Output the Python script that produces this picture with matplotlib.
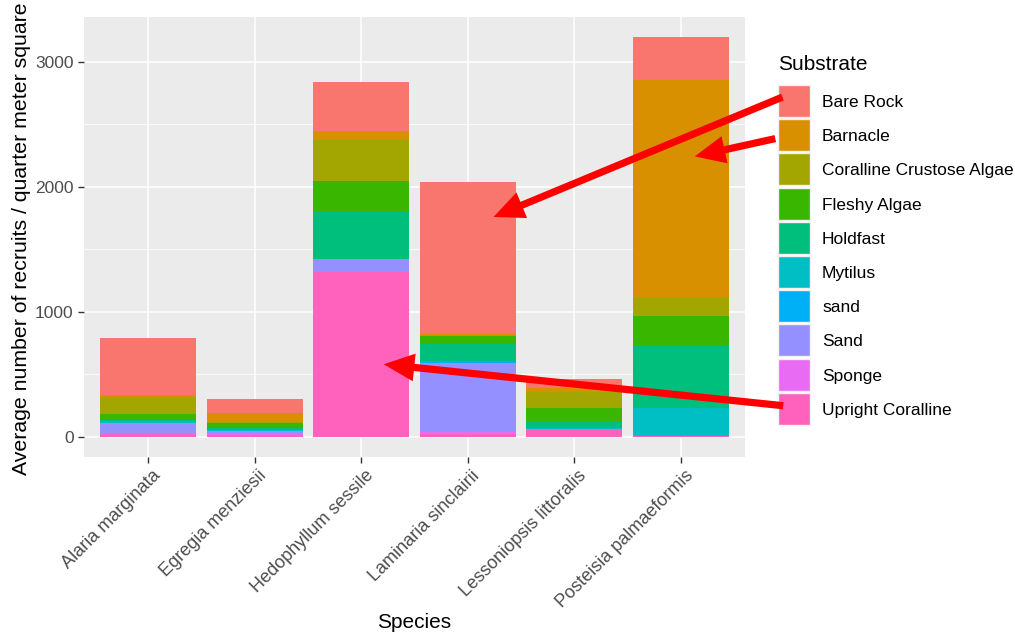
import matplotlib
matplotlib.use('Agg')
import matplotlib.pyplot as plt
import matplotlib.transforms as mtransforms
from matplotlib.patches import Rectangle, FancyArrowPatch
import numpy as np

plt.rcParams['font.family'] = ['Liberation Sans', 'DejaVu Sans']

# Datos
species = ['Alaria marginata', 'Egregia menziesii', 'Hedophyllum sessile',
           'Laminaria sinclairii', 'Lessoniopsis littoralis', 'Posteisia palmaeformis']
substrates = ['Bare Rock', 'Barnacle', 'Coralline Crustose Algae', 'Fleshy Algae',
              'Holdfast', 'Mytilus', 'sand', 'Sand', 'Sponge', 'Upright Coralline']
bare_rock = [453, 115, 390, 1218, 77, 340]
barnacle = [13, 69, 75, 16, 26, 1737]
coralline = [138, 13, 330, 0, 131, 152]
fleshy = [48, 40, 237, 66, 106, 234]
holdfast = [6, 12, 385, 136, 53, 503]
mytilus = [16, 7, 0, 0, 7, 221]
sand_lower = [0, 0, 0, 16, 0, 0]
sand_upper = [87, 29, 99, 551, 0, 0]
sponge = [7, 5, 0, 12, 0, 0]
upright = [20, 16, 1322, 25, 65, 10]
values = [bare_rock, barnacle, coralline, fleshy, holdfast, mytilus,
          sand_lower, sand_upper, sponge, upright]
colors = ['#F8766D', '#D89000', '#A3A500', '#39B600', '#00BF7D',
          '#00BFC4', '#00B0F6', '#9590FF', '#E76BF3', '#FF62BC']

W, H = 1015, 636
fig = plt.figure(figsize=(W / 100, H / 100), dpi=100)
ax = fig.add_axes([84 / W, (H - 457) / H, 661 / W, 440 / H])
ax.set_facecolor('#EBEBEB')

x = np.arange(1, len(species) + 1)
bottom = np.zeros(len(species))
# ggplot apila el primer nivel arriba: se dibuja desde el ultimo
for name, vals, col in reversed(list(zip(substrates, values, colors))):
    ax.bar(x, vals, bottom=bottom, width=0.9, color=col, zorder=3, linewidth=0)
    bottom += np.array(vals)

ax.set_xlim(0.4, 6.6)
ax.set_ylim(-160, 3357)
ax.set_yticks([0, 1000, 2000, 3000])
ax.set_yticks([500, 1500, 2500], minor=True)
ax.set_xticks(x)
ax.set_xticklabels(species, rotation=45, ha='right', va='top',
                   rotation_mode='anchor', fontsize=13, color='#4D4D4D')
ax.tick_params(axis='y', labelsize=12.5, labelcolor='#4D4D4D', color='#333333',
               length=4, width=1)
ax.tick_params(axis='y', which='minor', length=0)
ax.tick_params(axis='x', color='#333333', length=4, width=1, pad=2)
# desplazar las etiquetas un poco a la derecha, como en ggplot
offset = mtransforms.ScaledTranslation(3.5 / 100, -2 / 100, fig.dpi_scale_trans)
for lab in ax.get_xticklabels():
    lab.set_transform(lab.get_transform() + offset)
ax.grid(True, which='major', color='white', linewidth=1.1, zorder=0)
ax.grid(True, which='minor', axis='y', color='white', linewidth=0.55, zorder=0)
for s in ax.spines.values():
    s.set_visible(False)

fig.text(414.5 / W, 1 - 622 / H, 'Species', ha='center', va='center', fontsize=15)
fig.text(22 / W, 1 - 239 / H, 'Average number of recruits / quarter meter square',
         ha='center', va='center', rotation=90, fontsize=15.3)

# Leyenda manual al estilo ggplot
fig.text(778 / W, 1 - 64 / H, 'Substrate', ha='left', va='center', fontsize=15)
for i, (name, col) in enumerate(zip(substrates, colors)):
    top = 85 + 34.2 * i
    fig.add_artist(Rectangle((778 / W, 1 - (top + 32) / H), 32 / W, 32 / H,
                             transform=fig.transFigure, facecolor=col,
                             edgecolor='#F2F2F2', linewidth=1))
    fig.text(822 / W, 1 - (top + 17.5) / H, name, ha='left', va='center', fontsize=12.5)

# Flechas rojas
arrows = [((785, 96), (491, 218)), ((778, 138), (692, 157)), ((786, 406), (381, 364))]
for (x0, y0), (x1, y1) in arrows:
    fig.add_artist(FancyArrowPatch((x0 / W, 1 - y0 / H), (x1 / W, 1 - y1 / H),
                                   transform=fig.transFigure,
                                   arrowstyle='simple,head_length=1.1,head_width=1.0,tail_width=0.26',
                                   mutation_scale=20, color='#FF0000', linewidth=0))

fig.savefig('out.png', dpi=100)
